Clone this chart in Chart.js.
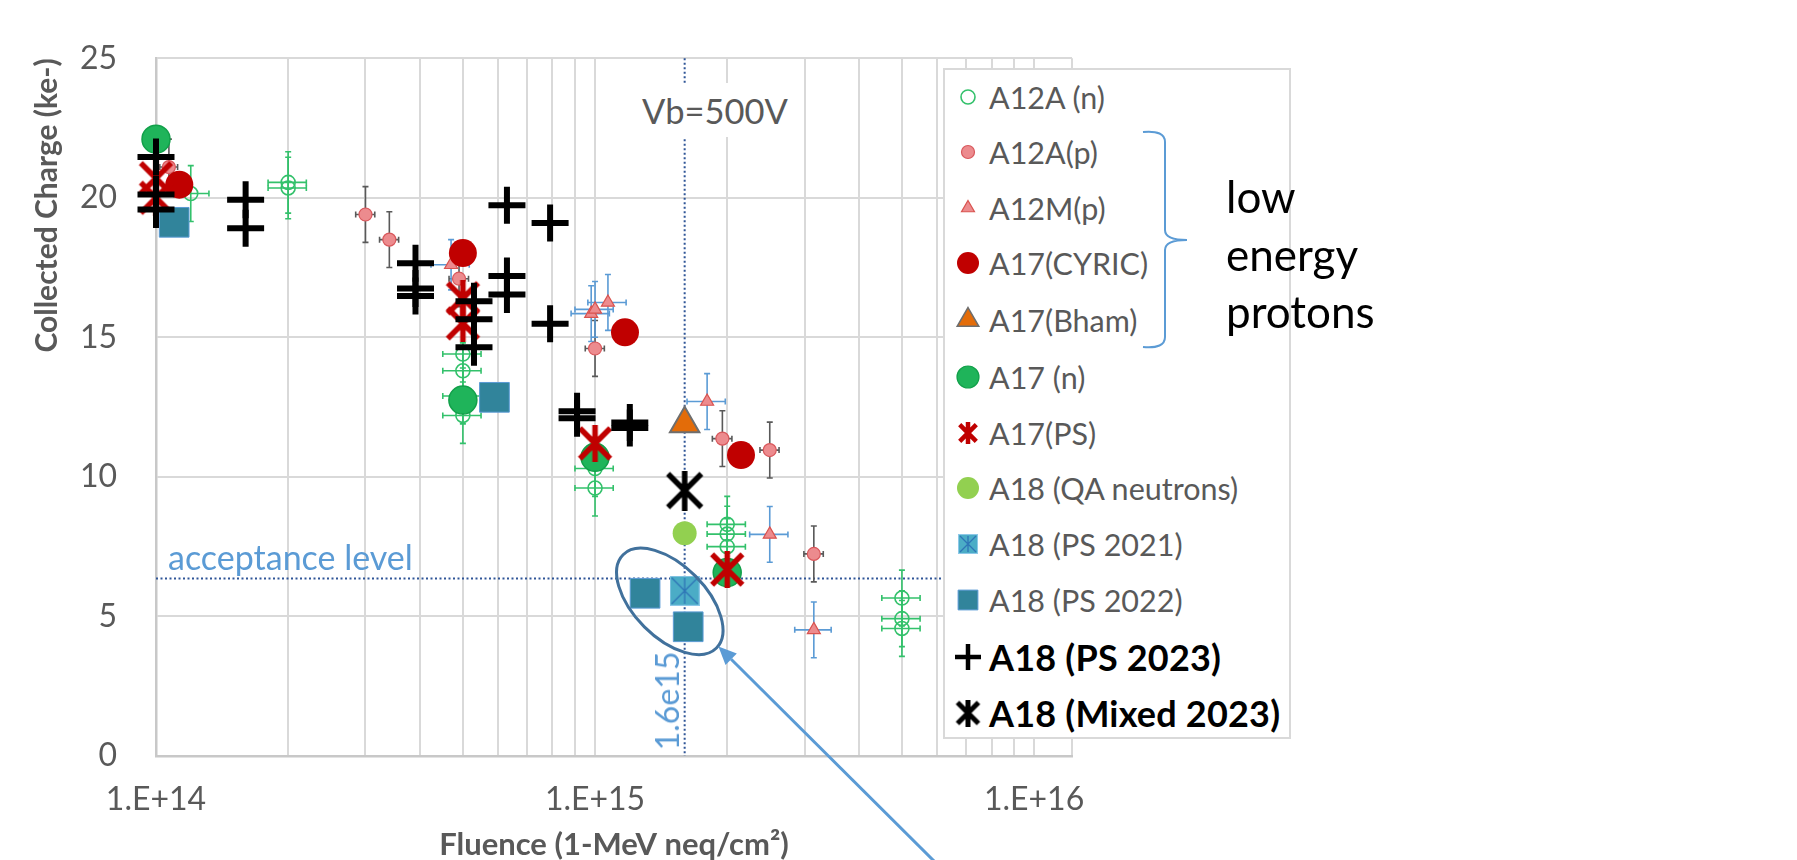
<!DOCTYPE html>
<html>
<head>
<meta charset="utf-8">
<script src="https://cdn.jsdelivr.net/npm/chart.js@4.4.1/dist/chart.umd.min.js"></script>
<style>
html,body{margin:0;padding:0;background:#fff;}
#wrap{position:relative;width:1797px;height:860px;overflow:hidden;font-family:Lato,'Open Sans',sans-serif;}
#c{position:absolute;left:0;top:0;}
.ann{position:absolute;white-space:nowrap;line-height:1;}
#legend{position:absolute;left:943px;top:68px;width:348px;height:671px;border:2px solid #D9D9D9;background:#fff;box-sizing:border-box;}
.row{position:absolute;left:0;height:40px;}
.row canvas{position:absolute;left:3px;top:0;}
.row span{position:absolute;left:44px;top:0;height:40px;line-height:40px;font-size:30.5px;color:#595959;white-space:nowrap;}
.row span.b{font-weight:bold;color:#000;font-size:36px;letter-spacing:0.2px;}
#vb{position:absolute;left:632px;top:83px;width:166px;height:54px;background:#fff;}
</style>
</head>
<body>
<div id="wrap">
<canvas id="c" width="1797" height="860"></canvas>
<div id="vb"></div>
<div class="ann" id="vbText" style="left:642px;top:94px;font-size:34.5px;color:#595959;">Vb=500V</div>
<div class="ann" id="accText" style="left:168px;top:540px;font-size:34px;color:#5B9BD5;">acceptance level</div>
<div class="ann" id="fluText" style="left:667px;top:701px;font-size:32px;color:#5B9BD5;transform:translate(-50%,-50%) rotate(-90deg);">1.6e15</div>
<div id="legend"></div>
<svg id="brace" width="1797" height="860" style="position:absolute;left:0;top:0;pointer-events:none;">
<path d="M1143,132 Q1165,130 1165,142 L1165,230 Q1165,240 1187,240 Q1165,240 1165,250 L1165,337 Q1165,349 1143,347" fill="none" stroke="#5B9BD5" stroke-width="2"/>
</svg>
<div class="ann" style="left:1226px;top:168px;font-size:44px;color:#000;line-height:57.5px;">low<br>energy<br>protons</div>
</div>
<script>
// ---------------- DATA ----------------
const seriesNames = ['A12A (n)','A12A(p)','A12M(p)','A17(CYRIC)','A17(Bham)','A17 (n)','A17(PS)','A18 (QA neutrons)','A18 (PS 2021)','A18 (PS 2022)','A18 (PS 2023)','A18 (Mixed 2023)'];

const A12A_n_x    = [1.2e14, 2.0e14, 2.0e14, 5.0e14, 5.0e14, 5.0e14, 5.0e14, 1.0e15, 1.0e15, 2.0e15, 2.0e15, 2.0e15, 5.0e15, 5.0e15, 5.0e15];
const A12A_n_y    = [20.15, 20.55, 20.35, 14.4, 13.8, 12.9, 12.2, 10.3, 9.6, 8.3, 7.95, 7.5, 5.66, 4.92, 4.57];
const A12A_n_xErr = [1.2e13, 2.0e13, 2.0e13, 5.0e13, 5.0e13, 5.0e13, 5.0e13, 1.0e14, 1.0e14, 2.0e14, 2.0e14, 2.0e14, 5.0e14, 5.0e14, 5.0e14];
const A12A_n_yErr = [1.0, 1.1, 1.1, 1.0, 1.0, 1.0, 1.0, 1.0, 1.0, 1.0, 1.0, 1.0, 1.0, 1.0, 1.0];

const A12A_p_x    = [1.07e14, 3.0e14, 3.4e14, 4.9e14, 1.0e15, 1.95e15, 2.5e15, 3.15e15];
const A12A_p_y    = [21.1, 19.4, 18.5, 17.1, 14.6, 11.37, 10.96, 7.24];
const A12A_p_xErr = [5e12, 1.5e13, 1.7e13, 2.5e13, 5e13, 1.0e14, 1.25e14, 1.6e14];
const A12A_p_yErr = [1.0, 1.0, 1.0, 1.0, 1.0, 1.0, 1.0, 1.0];

const A12M_p_x    = [4.7e14, 0.98e15, 1.0e15, 1.07e15, 1.8e15, 2.5e15, 3.15e15];
const A12M_p_y    = [17.6, 15.85, 16.0, 16.25, 12.7, 7.94, 4.52];
const A12M_p_xErr = [4.7e13, 9.8e13, 1.0e14, 1.07e14, 1.8e14, 2.5e14, 3.0e14];
const A12M_p_yErr = [0.9, 1.0, 1.0, 1.0, 1.0, 1.0, 1.0];

const A17_CYRIC_x = [1.13e14, 5.0e14, 1.17e15, 2.15e15];
const A17_CYRIC_y = [20.47, 18.02, 15.18, 10.78];

const A17_Bham_x = [1.6e15];
const A17_Bham_y = [11.9];

const A17_n_x = [1.0e14, 5.0e14, 1.0e15, 2.0e15];
const A17_n_y = [22.1, 12.75, 10.7, 6.57];

const A17_PS_x = [1.0e14, 1.0e14, 5.0e14, 5.0e14, 1.0e15, 2.0e15];
const A17_PS_y = [20.7, 20.0, 16.4, 15.5, 11.2, 6.68];

const A18_QA_x = [1.6e15];
const A18_QA_y = [7.98];

const A18_PS2021_x = [1.6e15];
const A18_PS2021_y = [5.92];

const A18_PS2022_x = [1.1e14, 5.9e14, 1.3e15, 1.63e15];
const A18_PS2022_y = [19.12, 12.85, 5.83, 4.63];

const A18_PS2023_x = [1e14, 1e14, 1e14, 1.6e14, 1.6e14, 3.9e14, 3.9e14, 3.9e14, 5.3e14, 5.3e14, 5.3e14, 6.3e14, 6.3e14, 6.3e14, 7.9e14, 7.9e14, 9.1e14, 9.1e14, 1.2e15, 1.2e15];
const A18_PS2023_y = [21.46, 20.12, 19.58, 19.93, 18.91, 17.65, 16.75, 16.48, 16.29, 15.65, 14.64, 19.73, 17.2, 16.53, 19.1, 15.49, 12.35, 12.1, 11.95, 11.75];

const A18_Mixed_x = [1.6e15];
const A18_Mixed_y = [9.51];

const acceptanceLevel = 6.36;
const vbFluence = 1.6e15;

const xMin = 1e14, xMax = 1.22e16;
const xMajorTicks = [1e14, 1e15, 1e16];
const xTickLabels = ['1.E+14', '1.E+15', '1.E+16'];
const xMinorMultipliers = [2, 3, 4, 5, 6, 7, 8, 9];
const yTicksMin = 0, yTicksMax = 25, yStep = 5;

// ---------------- helpers ----------------
const pts = (xs, ys) => xs.map((x, i) => ({x, y: ys[i]}));

function starCanvas(size, color, lw) {
  const c = document.createElement('canvas');
  c.width = c.height = size;
  const g = c.getContext('2d');
  g.strokeStyle = color; g.lineWidth = lw;
  const m = lw * 0.6, s = size;
  g.beginPath();
  g.moveTo(m, m); g.lineTo(s - m, s - m);
  g.moveTo(s - m, m); g.lineTo(m, s - m);
  g.moveTo(s / 2, 0); g.lineTo(s / 2, s);
  g.stroke();
  return c;
}
function boxStarCanvas(size) {
  const c = document.createElement('canvas');
  c.width = c.height = size;
  const g = c.getContext('2d');
  g.fillStyle = '#4BACC6';
  g.fillRect(0, 0, size, size);
  g.strokeStyle = '#8DC8E8'; g.lineWidth = 1;
  g.strokeRect(0.5, 0.5, size - 1, size - 1);
  g.strokeStyle = '#2E75B6'; g.lineWidth = 1.3;
  g.beginPath();
  g.moveTo(2, 2); g.lineTo(size - 2, size - 2);
  g.moveTo(size - 2, 2); g.lineTo(2, size - 2);
  g.moveTo(size / 2, 2); g.lineTo(size / 2, size - 2);
  g.stroke();
  return c;
}

const xGridValues = [];
for (let d = 0; d < xMajorTicks.length; d++) {
  xGridValues.push(xMajorTicks[d]);
  if (d < xMajorTicks.length - 1) xMinorMultipliers.forEach(m => xGridValues.push(m * xMajorTicks[d]));
}
xGridValues.push(xMax);
xGridValues.sort((a, b) => a - b);

const seriesData = [
  pts(A12A_n_x, A12A_n_y), pts(A12A_p_x, A12A_p_y), pts(A12M_p_x, A12M_p_y),
  pts(A17_CYRIC_x, A17_CYRIC_y), pts(A17_Bham_x, A17_Bham_y), pts(A17_n_x, A17_n_y),
  pts(A17_PS_x, A17_PS_y), pts(A18_QA_x, A18_QA_y), pts(A18_PS2021_x, A18_PS2021_y),
  pts(A18_PS2022_x, A18_PS2022_y), pts(A18_PS2023_x, A18_PS2023_y), pts(A18_Mixed_x, A18_Mixed_y)
];

const errorBars = {
  0: {x: A12A_n_x, y: A12A_n_y, xe: A12A_n_xErr, ye: A12A_n_yErr, color: '#33C16B'},
  1: {x: A12A_p_x, y: A12A_p_y, xe: A12A_p_xErr, ye: A12A_p_yErr, color: '#595959'},
  2: {x: A12M_p_x, y: A12M_p_y, xe: A12M_p_xErr, ye: A12M_p_yErr, color: '#5B9BD5'}
};

const styles = [
  {ps: 'circle', r: 7, bw: 1.6, bg: 'rgba(255,255,255,0)', bc: '#33C16B', lr: 7, lbw: 1.6},
  {ps: 'circle', r: 6.5, bw: 1.2, bg: '#EC8B8E', bc: '#D9585C', lr: 6.5, lbw: 1.2},
  {ps: 'triangle', r: 7.5, bw: 1.2, bg: '#EC8B8E', bc: '#D9534F', lr: 7.5, lbw: 1.2},
  {ps: 'circle', r: 14, bw: 0, bg: '#C00000', bc: '#C00000', lr: 11, lbw: 0},
  {ps: 'triangle', r: 17, bw: 2, bg: '#E36C09', bc: '#6E6E6E', lr: 12.5, lbw: 1.5},
  {ps: 'circle', r: 14, bw: 1.5, bg: '#1FB45A', bc: '#12A04A', lr: 11, lbw: 1.2},
  {ps: starCanvas(37, '#C00000', 5.5), lps: starCanvas(22, '#C00000', 4.5), r: 18, bw: 0, bg: '#C00000', bc: '#C00000'},
  {ps: 'circle', r: 12, bw: 0, bg: '#92D050', bc: '#92D050', lr: 11, lbw: 0},
  {ps: boxStarCanvas(30), lps: boxStarCanvas(20), r: 15, bw: 0, bg: '#4BACC6', bc: '#4BACC6'},
  {ps: 'rect', r: 21, bw: 1, bg: '#31849B', bc: '#5B9BD5', lr: 14, lbw: 1},
  {ps: 'cross', r: 18.5, bw: 6, bg: '#000', bc: '#000', lr: 13, lbw: 4.5},
  {ps: starCanvas(40, '#000', 5.5), lps: starCanvas(27, '#000', 5), r: 20, bw: 0, bg: '#000', bc: '#000'}
];

const datasets = seriesNames.map((name, i) => ({
  label: name,
  data: seriesData[i],
  pointStyle: styles[i].ps,
  pointRadius: styles[i].r,
  pointBorderWidth: styles[i].bw,
  pointBackgroundColor: styles[i].bg,
  pointBorderColor: styles[i].bc,
  showLine: false,
  clip: false,
  order: seriesNames.length - i
}));

// ---------------- plugin: reference lines, error bars, ellipse, arrow ----------------
const overlayPlugin = {
  id: 'overlay',
  beforeDatasetsDraw(chart) {
    const {ctx, chartArea: ca, scales: {x, y}} = chart;
    ctx.save();
    ctx.strokeStyle = '#2F5597';
    ctx.lineWidth = 2;
    ctx.setLineDash([2, 2.5]);
    const ya = y.getPixelForValue(acceptanceLevel);
    ctx.beginPath(); ctx.moveTo(ca.left, ya); ctx.lineTo(ca.right, ya); ctx.stroke();
    const xv = x.getPixelForValue(vbFluence);
    ctx.beginPath(); ctx.moveTo(xv, ca.top); ctx.lineTo(xv, ca.bottom); ctx.stroke();
    ctx.setLineDash([]);
    Object.keys(errorBars).forEach(k => {
      const e = errorBars[k];
      ctx.strokeStyle = e.color;
      ctx.lineWidth = 1.6;
      const cap = 3;
      e.x.forEach((xv0, i) => {
        const px = x.getPixelForValue(xv0), py = y.getPixelForValue(e.y[i]);
        const y1 = y.getPixelForValue(e.y[i] + e.ye[i]), y2 = y.getPixelForValue(e.y[i] - e.ye[i]);
        const x1 = x.getPixelForValue(xv0 - e.xe[i]), x2 = x.getPixelForValue(xv0 + e.xe[i]);
        ctx.beginPath();
        ctx.moveTo(px, y1); ctx.lineTo(px, y2);
        ctx.moveTo(px - cap, y1); ctx.lineTo(px + cap, y1);
        ctx.moveTo(px - cap, y2); ctx.lineTo(px + cap, y2);
        ctx.moveTo(x1, py); ctx.lineTo(x2, py);
        ctx.moveTo(x1, py - cap); ctx.lineTo(x1, py + cap);
        ctx.moveTo(x2, py - cap); ctx.lineTo(x2, py + cap);
        ctx.stroke();
      });
    });
    ctx.restore();
  },
  afterDatasetsDraw(chart) {
    const {ctx, scales: {x, y}} = chart;
    ctx.save();
    const cx = x.getPixelForValue(1.48e15), cy = y.getPixelForValue(5.54);
    ctx.strokeStyle = '#41719C';
    ctx.lineWidth = 3;
    ctx.beginPath();
    ctx.ellipse(cx, cy, 66, 36, 45 * Math.PI / 180, 0, Math.PI * 2);
    ctx.stroke();
    const tx = x.getPixelForValue(1.91e15), ty = y.getPixelForValue(3.92);
    const sx = 935, sy = 862;
    ctx.strokeStyle = '#5B9BD5'; ctx.fillStyle = '#5B9BD5';
    ctx.lineWidth = 3;
    const ang = Math.atan2(ty - sy, tx - sx);
    const hl = 18, hw = 8;
    const bx = tx - hl * Math.cos(ang), by = ty - hl * Math.sin(ang);
    ctx.beginPath(); ctx.moveTo(sx, sy); ctx.lineTo(bx, by); ctx.stroke();
    ctx.beginPath();
    ctx.moveTo(tx, ty);
    ctx.lineTo(bx + hw * Math.sin(ang), by - hw * Math.cos(ang));
    ctx.lineTo(bx - hw * Math.sin(ang), by + hw * Math.cos(ang));
    ctx.closePath(); ctx.fill();
    ctx.restore();
  }
};

const tickFont = {family: 'Lato', size: 32};

const chart = new Chart(document.getElementById('c'), {
  type: 'scatter',
  data: {datasets},
  options: {
    responsive: false,
    animation: false,
    devicePixelRatio: 1,
    layout: {padding: {left: 0, right: 725, top: 48, bottom: 0}},
    plugins: {legend: {display: false}, tooltip: {enabled: false}},
    scales: {
      x: {
        type: 'logarithmic',
        min: xMin, max: xMax,
        afterBuildTicks: (axis) => { axis.ticks = xGridValues.map(v => ({value: v})); },
        afterFit: (axis) => { axis.height = 104; },
        ticks: {
          autoSkip: false, maxRotation: 0, minRotation: 0,
          font: tickFont, color: '#595959', padding: 24,
          callback: (v) => { const i = xMajorTicks.indexOf(v); return i >= 0 ? xTickLabels[i] : ''; }
        },
        grid: {color: '#D9D9D9', lineWidth: 2, drawTicks: false},
        border: {color: '#C8C8C8', width: 2.5},
        title: {display: true, text: 'Fluence (1-MeV neq/cm²)', color: '#595959',
                font: {family: 'Lato', size: 31, weight: 'bold', lineHeight: 1.0}, padding: {top: 0, bottom: 0}}
      },
      y: {
        min: yTicksMin, max: yTicksMax,
        afterFit: (axis) => { axis.width = 156; },
        ticks: {stepSize: yStep, font: tickFont, color: '#595959', padding: 39},
        grid: {color: '#D9D9D9', lineWidth: 2, drawTicks: false},
        border: {color: '#C8C8C8', width: 2.5},
        title: {display: true, text: 'Collected Charge (ke-)', align: 'end', color: '#595959',
                font: {family: 'Lato', size: 30, weight: 'bold', lineHeight: 1.0}, padding: {top: 32, bottom: 0}}
      }
    }
  },
  plugins: [overlayPlugin]
});

// ---------------- HTML legend (markers drawn with Chart.js helpers) ----------------
const legendEl = document.getElementById('legend');
const rowCenters = [29, 84, 140, 195, 252, 309, 365, 420, 476, 532, 589, 645];
seriesNames.forEach((name, i) => {
  const row = document.createElement('div');
  row.className = 'row';
  row.style.top = (rowCenters[i] - 20 - 2) + 'px';
  const cv = document.createElement('canvas');
  cv.width = 40; cv.height = 40;
  const g = cv.getContext('2d');
  const s = styles[i];
  g.fillStyle = s.bg; g.strokeStyle = s.bc;
  g.lineWidth = s.lbw || 0;
  Chart.helpers.drawPoint(g, {pointStyle: s.lps || s.ps, radius: s.lr || 10, borderWidth: s.lbw || 0, rotation: 0}, 20, 20);
  row.appendChild(cv);
  const sp = document.createElement('span');
  sp.textContent = name;
  if (i >= 10) sp.className = 'b';
  row.appendChild(sp);
  legendEl.appendChild(row);
});
</script>
</body>
</html>
